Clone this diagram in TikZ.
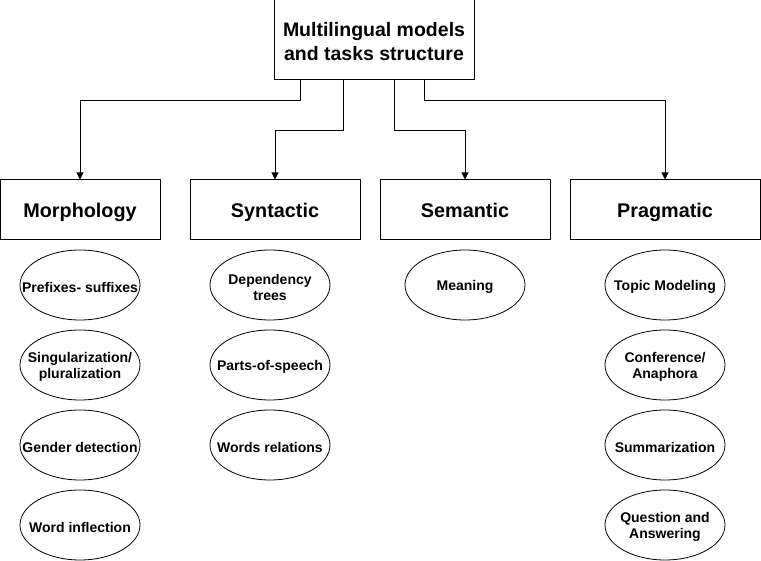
\documentclass[tikz,border=0pt]{standalone}
\usepackage{fontspec}
\setmainfont{Liberation Sans}
\usetikzlibrary{arrows.meta,shapes.geometric}
\begin{document}
\begin{tikzpicture}[x=1pt,y=-1pt,line width=1pt,
  topbox/.style={draw,rectangle,minimum width=200pt,minimum height=80pt,inner sep=0pt},
  toptext/.style={align=center,inner sep=0pt,yshift=-1.5pt,font=\bfseries\fontsize{19.5}{24}\selectfont},
  catbox/.style={draw,rectangle,minimum height=60pt,inner sep=0pt,text height=14.2pt,text depth=0pt,font=\bfseries\fontsize{19.8}{24}\selectfont},
  task/.style={draw,ellipse,line width=0.8pt,minimum width=120pt,minimum height=70pt,inner sep=0pt},
  tasktext/.style={align=center,inner sep=0pt,yshift=-2pt,font=\bfseries\fontsize{14}{16}\selectfont},
  conn/.style={-{Triangle[length=7pt,width=7pt]},line width=0.9pt}]
\useasboundingbox (0,0) rectangle (761,561);
\node[topbox,label={[toptext]center:Multilingual models\\and tasks structure}] (top) at (374,40) {};
\node[catbox,minimum width=160pt] (morph) at (80,210) {Morphology};
\node[catbox,minimum width=170pt] (synt) at (275,210) {Syntactic};
\node[catbox,minimum width=170pt] (sem) at (465,210) {Semantic};
\node[catbox,minimum width=190pt] (prag) at (665,210) {Pragmatic};
% connectors
\draw[conn] (top.south -| 300,0) |- (80,100) -- (morph.north);
\draw[conn] (top.south -| 343,0) |- (275,130) -- (synt.north);
\draw[conn] (top.south -| 394,0) |- (465,130) -- (sem.north);
\draw[conn] (top.south -| 424,0) |- (665,100) -- (prag.north);
% morphology tasks
\node[task,label={[tasktext]center:Prefixes- suffixes}] (m1) at (80,285) {};
\node[task,label={[tasktext]center:Singularization/\\pluralization}] (m2) at (80,365) {};
\node[task,label={[tasktext]center:Gender detection}] (m3) at (80,445) {};
\node[task,label={[tasktext]center:Word inflection}] (m4) at (80,525) {};
% syntactic tasks
\node[task,label={[tasktext]center:Dependency\\trees}] (s1) at (270,285) {};
\node[task,label={[tasktext]center:Parts-of-speech}] (s2) at (270,365) {};
\node[task,label={[tasktext]center:Words relations}] (s3) at (270,445) {};
% semantic
\node[task,label={[tasktext]center:Meaning}] (e1) at (465,285) {};
% pragmatic
\node[task,label={[tasktext]center:Topic Modeling}] (p1) at (665,285) {};
\node[task,label={[tasktext]center:Conference/\\Anaphora}] (p2) at (665,365) {};
\node[task,label={[tasktext]center:Summarization}] (p3) at (665,445) {};
\node[task,label={[tasktext]center:Question and\\Answering}] (p4) at (665,525) {};
\end{tikzpicture}
\end{document}
